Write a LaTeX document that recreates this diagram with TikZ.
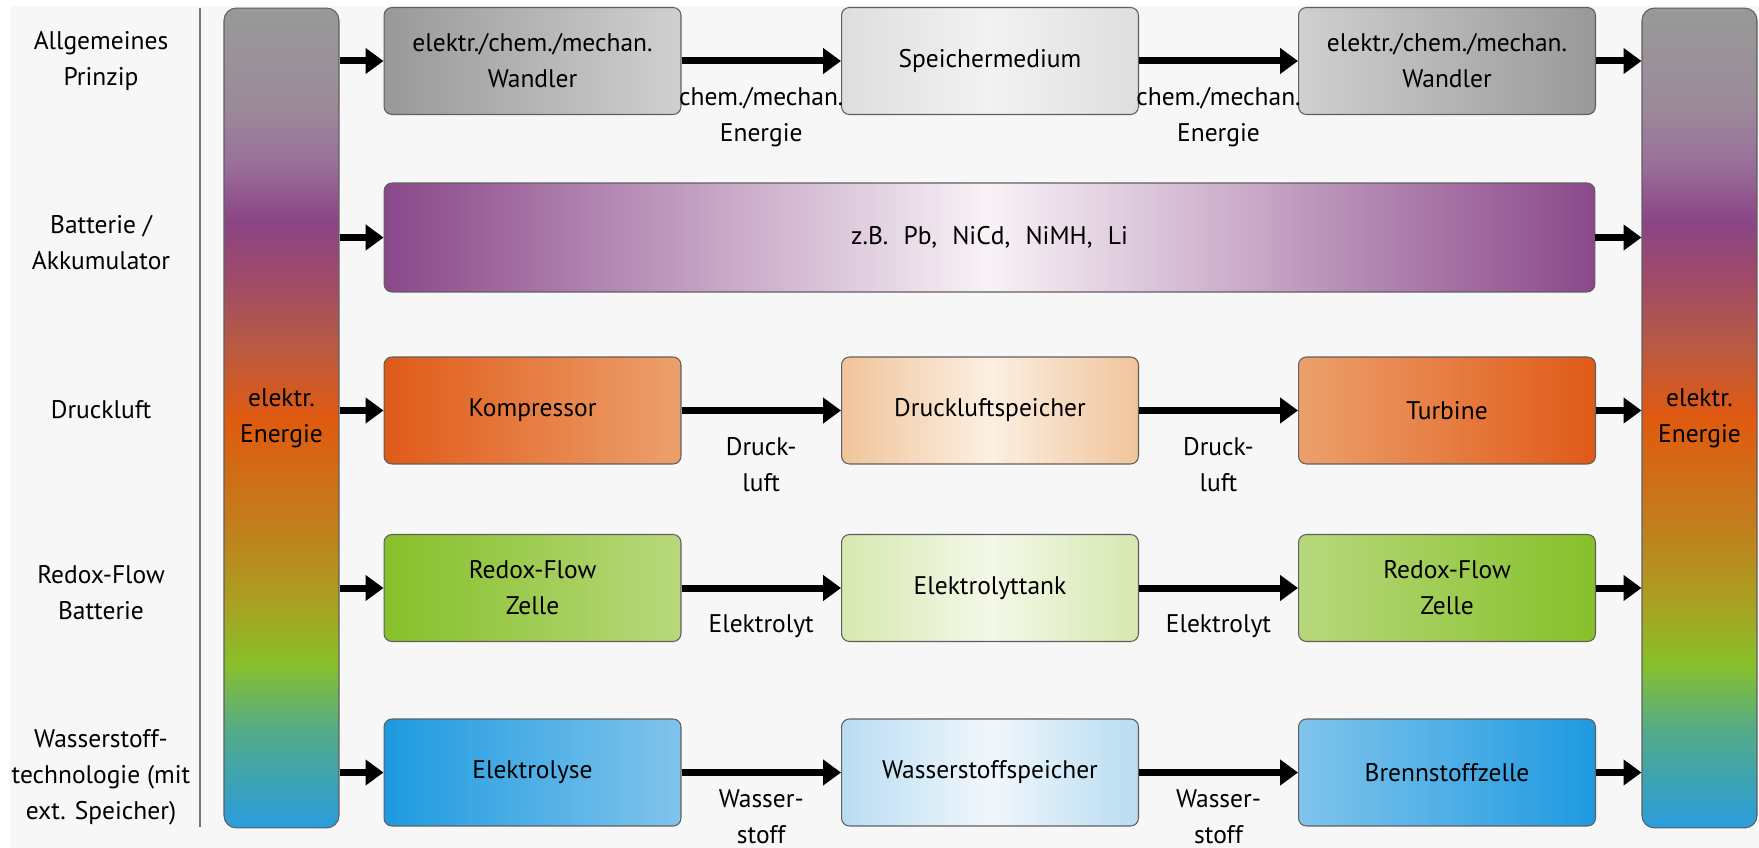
\documentclass[tikz,border=0pt]{standalone}
\usepackage{fontspec}
\setmainfont{PT Sans}
\usepackage{xcolor}
\usepackage{tikz}
\usetikzlibrary{arrows.meta,positioning}
\definecolor{PageGray}{RGB}{247,247,247}
\definecolor{SepGray}{RGB}{120,120,120}
\definecolor{BoxLine}{RGB}{95,95,95}
\definecolor{GrayDark}{RGB}{153,153,153}
\definecolor{GrayLight}{RGB}{208,208,208}
\definecolor{GrayMidEdge}{RGB}{222,222,222}
\definecolor{GrayMidCtr}{RGB}{242,242,242}
\definecolor{PurpleDark}{RGB}{138,72,138}
\definecolor{PurpleCtr}{RGB}{248,242,246}
\definecolor{OrangeDark}{RGB}{224,90,24}
\definecolor{OrangeLight}{RGB}{236,160,108}
\definecolor{OrangeMidEdge}{RGB}{240,196,154}
\definecolor{OrangeMidCtr}{RGB}{252,239,226}
\definecolor{GreenDark}{RGB}{134,192,42}
\definecolor{GreenLight}{RGB}{184,216,124}
\definecolor{GreenMidEdge}{RGB}{214,232,176}
\definecolor{GreenMidCtr}{RGB}{244,248,232}
\definecolor{BlueDark}{RGB}{30,154,224}
\definecolor{BlueLight}{RGB}{128,196,236}
\definecolor{BlueMidEdge}{RGB}{184,220,242}
\definecolor{BlueMidCtr}{RGB}{240,247,252}
\pgfdeclareverticalshading{energybar}{100bp}{%
  color(0bp)=(rgb,255:red,42;green,157;blue,224);
  color(25bp)=(rgb,255:red,42;green,157;blue,224);
  color(27.5bp)=(rgb,255:red,58;green,162;blue,184);
  color(31bp)=(rgb,255:red,85;green,171;blue,136);
  color(35bp)=(rgb,255:red,136;green,192;blue,42);
  color(38.5bp)=(rgb,255:red,168;green,162;blue,34);
  color(43.5bp)=(rgb,255:red,194;green,126;blue,28);
  color(50bp)=(rgb,255:red,224;green,90;blue,16);
  color(54.5bp)=(rgb,255:red,184;green,90;blue,68);
  color(58.5bp)=(rgb,255:red,160;green,74;blue,104);
  color(62bp)=(rgb,255:red,138;green,69;blue,133);
  color(65.5bp)=(rgb,255:red,154;green,111;blue,154);
  color(69bp)=(rgb,255:red,155;green,138;blue,153);
  color(75bp)=(rgb,255:red,153;green,153;blue,153);
  color(100bp)=(rgb,255:red,153;green,153;blue,153)}
\newcommand{\lblsize}{\fontsize{14.5}{20.5}\selectfont}
\tikzset{
    cbox/.style={draw=BoxLine, line width=0.6pt, rounded corners=4.5pt, minimum width=5.94cm, minimum height=2.14cm, align=center, inner sep=0pt},
    widebox/.style={cbox, minimum width=24.22cm, minimum height=2.18cm},
    ebar/.style={draw=BoxLine, line width=0.6pt, rounded corners=7pt, minimum width=2.3cm, minimum height=16.4cm, shading=energybar, align=center},
    rowlbl/.style={align=center, inner sep=0pt},
    flow/.style={-{Triangle[length=0.36cm, width=0.5cm]}, line width=0.14cm},
    flowlbl/.style={below=0.46cm, align=center, inner sep=0pt},
}
\begin{document}
\begin{tikzpicture}[x=0.02cm, y=-0.02cm, font=\lblsize]
\useasboundingbox (0,0) rectangle (1759,848);
\fill[PageGray] (10,6) rectangle (1759,848);
\draw[SepGray, line width=0.8pt] (200,8) -- (200,827);

% Zeilenbeschriftungen
\node[rowlbl] (l1) at (101,61) {Allgemeines\\Prinzip};
\node[rowlbl] (l2) at (101,243) {Batterie /\\Akkumulator};
\node[rowlbl] (l3) at (101,410) {Druckluft};
\node[rowlbl] (l4) at (101,593) {Redox-Flow\\Batterie};
\node[rowlbl] (l5) at (101,777) {Wasserstoff-\\technologie (mit\\ext. Speicher)};

\node[ebar] (lbar) at (281.5,418) {elektr.\\Energie};
\node[ebar] (rbar) at (1699.5,418) {elektr.\\Energie};

% Allgemeines Prinzip
\node[cbox, left color=GrayDark, right color=GrayLight] (wa) at (532.5,61) {elektr./chem./mechan.\\Wandler};
\node[cbox, left color=GrayMidEdge, right color=GrayMidEdge, middle color=GrayMidCtr] (sm) at (990,61) {Speichermedium};
\node[cbox, left color=GrayLight, right color=GrayDark] (wb) at (1447,61) {elektr./chem./mechan.\\Wandler};

% Batterie
\node[widebox, left color=PurpleDark, right color=PurpleDark, middle color=PurpleCtr] (akku) at (989.5,237.5)
  {z.B.\hspace{0.6em}Pb,\hspace{0.6em}NiCd,\hspace{0.6em}NiMH,\hspace{0.6em}Li};

% Druckluft
\node[cbox, left color=OrangeDark, right color=OrangeLight] (komp) at (532.5,410.5) {Kompressor};
\node[cbox, left color=OrangeMidEdge, right color=OrangeMidEdge, middle color=OrangeMidCtr] (dls) at (990,410.5) {Druckluftspeicher};
\node[cbox, left color=OrangeLight, right color=OrangeDark] (turb) at (1447,410.5) {Turbine};

% Redox-Flow
\node[cbox, left color=GreenDark, right color=GreenLight] (rfa) at (532.5,588) {Redox-Flow\\Zelle};
\node[cbox, left color=GreenMidEdge, right color=GreenMidEdge, middle color=GreenMidCtr] (tank) at (990,588) {Elektrolyttank};
\node[cbox, left color=GreenLight, right color=GreenDark] (rfb) at (1447,588) {Redox-Flow\\Zelle};

% Wasserstoff
\node[cbox, left color=BlueDark, right color=BlueLight] (elyse) at (532.5,772.5) {Elektrolyse};
\node[cbox, left color=BlueMidEdge, right color=BlueMidEdge, middle color=BlueMidCtr] (h2s) at (990,772.5) {Wasserstoffspeicher};
\node[cbox, left color=BlueLight, right color=BlueDark] (fc) at (1447,772.5) {Brennstoffzelle};

% Pfeile von / zur Energie
\foreach \a/\b in {wa/wb, akku/akku, komp/turb, rfa/rfb, elyse/fc} {
  \draw[flow] (lbar.east |- \a.west) -- (\a.west);
  \draw[flow] (\b.east) -- (rbar.west |- \b.east);
}

\draw[flow] (wa) -- (sm) node[flowlbl, midway] {chem./mechan.\\Energie};
\draw[flow] (sm) -- (wb) node[flowlbl, midway] {chem./mechan.\\Energie};
\draw[flow] (komp) -- (dls) node[flowlbl, midway] {Druck-\\luft};
\draw[flow] (dls) -- (turb) node[flowlbl, midway] {Druck-\\luft};
\draw[flow] (rfa) -- (tank) node[flowlbl, midway] {Elektrolyt};
\draw[flow] (tank) -- (rfb) node[flowlbl, midway] {Elektrolyt};
\draw[flow] (elyse) -- (h2s) node[flowlbl, midway, below=0.27cm] {Wasser-\\stoff};
\draw[flow] (h2s) -- (fc) node[flowlbl, midway, below=0.27cm] {Wasser-\\stoff};
\end{tikzpicture}
\end{document}
